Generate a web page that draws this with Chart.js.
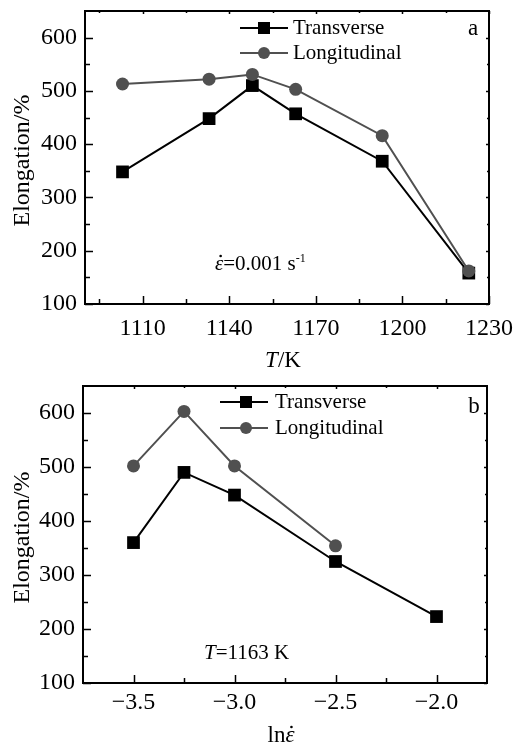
<!DOCTYPE html>
<html>
<head>
<meta charset="utf-8">
<script src="https://cdn.jsdelivr.net/npm/chart.js@4"></script>
<style>
  body { margin: 0; background: #fff; }
  .wrap { position: absolute; left: 0; width: 518px; }
  canvas { display: block; }
</style>
</head>
<body>
<div class="wrap" style="top:0"><canvas id="chartA" width="518" height="370"></canvas></div>
<div class="wrap" style="top:370px"><canvas id="chartB" width="518" height="379"></canvas></div>
<script>
// (a) elongation vs temperature, strain rate 0.001 s-1
const tempA = [1103, 1133, 1148, 1163, 1193, 1223];
const transA = [348, 448, 510, 457, 368, 158];
const longA = [513, 522, 531, 503, 416, 162];
const xTicksA = [1110, 1140, 1170, 1200, 1230];
const xMinorA = [1095, 1125, 1155, 1185, 1215];

// (b) elongation vs ln(strain rate), T = 1163 K
const rateB = [-3.5, -3.25, -3.0, -2.5, -2.0];
const transB = [360, 490, 448, 325, 223];
const rateLongB = [-3.5, -3.25, -3.0, -2.5];
const longB = [502, 603, 502, 354];
const xTicksB = [-3.5, -3.0, -2.5, -2.0];
const xMinorB = [-3.25, -2.75, -2.25];

const yTicks = [100, 200, 300, 400, 500, 600];
const yMinor = [150, 250, 350, 450, 550];

const FONT = "'Liberation Serif', 'DejaVu Serif', serif";
const BLACK = '#000000';
const GREY = '#505050';

// frame, inward ticks, legend, titles and annotation
const framePlugin = {
    id: 'frame',
    afterDraw(chart, args, o) {
        const ctx = chart.ctx;
        const a = chart.chartArea;
        const xs = chart.scales.x, ys = chart.scales.y;
        ctx.save();
        ctx.strokeStyle = BLACK;
        ctx.lineWidth = 2;
        ctx.strokeRect(a.left, a.top, a.right - a.left, a.bottom - a.top);

        ctx.lineWidth = 1.5;
        ctx.beginPath();
        const tick = (x0, y0, x1, y1) => { ctx.moveTo(x0, y0); ctx.lineTo(x1, y1); };
        o.xMajor.forEach(v => {
            const px = Math.round(xs.getPixelForValue(v)) + 0.5;
            tick(px, a.bottom, px, a.bottom - 8);
            tick(px, a.top, px, a.top + 3);
        });
        o.xMinor.forEach(v => {
            const px = Math.round(xs.getPixelForValue(v)) + 0.5;
            tick(px, a.bottom, px, a.bottom - 5);
            tick(px, a.top, px, a.top + 2);
        });
        yTicks.forEach(v => {
            const py = Math.round(ys.getPixelForValue(v)) + 0.5;
            tick(a.left, py, a.left + 8, py);
            tick(a.right, py, a.right - 3, py);
        });
        yMinor.forEach(v => {
            const py = Math.round(ys.getPixelForValue(v)) + 0.5;
            tick(a.left, py, a.left + 5, py);
            tick(a.right, py, a.right - 2, py);
        });
        ctx.stroke();

        // legend
        const entries = [
            { label: 'Transverse', color: BLACK, style: 'rect' },
            { label: 'Longitudinal', color: GREY, style: 'circle' }
        ];
        entries.forEach((e, i) => {
            const ly = o.legend.y + i * o.legend.gap;
            ctx.strokeStyle = e.color;
            ctx.lineWidth = 2;
            ctx.beginPath();
            ctx.moveTo(o.legend.x0, ly);
            ctx.lineTo(o.legend.x1, ly);
            ctx.stroke();
            ctx.fillStyle = e.color;
            ctx.beginPath();
            if (e.style === 'rect') ctx.rect(o.legend.mx - 6, ly - 6, 12, 12);
            else ctx.arc(o.legend.mx, ly, 6, 0, Math.PI * 2);
            ctx.fill();
            ctx.fillStyle = BLACK;
            ctx.font = '21px ' + FONT;
            ctx.textAlign = 'left';
            ctx.textBaseline = 'middle';
            ctx.fillText(e.label, o.legend.tx, ly);
        });

        // panel letter
        ctx.font = '23px ' + FONT;
        ctx.textAlign = 'center';
        ctx.textBaseline = 'middle';
        ctx.fillText(o.panel.text, o.panel.x, o.panel.y);

        // y title
        ctx.save();
        ctx.translate(23, (a.top + a.bottom) / 2 + 3);
        ctx.rotate(-Math.PI / 2);
        ctx.font = '24px ' + FONT;
        ctx.textAlign = 'center';
        ctx.textBaseline = 'middle';
        ctx.fillText('Elongation/%', 0, 0);
        ctx.restore();

        // mixed-style texts (x title and note); dotted epsilon gets its dot drawn
        const runs = (parts, x, y, align) => {
            ctx.textBaseline = 'alphabetic';
            ctx.textAlign = 'left';
            let w = 0;
            parts.forEach(p => { ctx.font = p.f; w += ctx.measureText(p.t).width; });
            let cx = align === 'center' ? x - w / 2 : x;
            parts.forEach(p => {
                ctx.font = p.f;
                const pw = ctx.measureText(p.t).width;
                ctx.fillText(p.t, cx, y + (p.dy || 0));
                if (p.dot) {
                    ctx.beginPath();
                    ctx.arc(cx + pw / 2 + 1.5, y - p.dot, 1.3, 0, Math.PI * 2);
                    ctx.fill();
                }
                cx += pw;
            });
        };
        runs(o.xTitle, o.xTitlePos.x, o.xTitlePos.y, 'center');
        runs(o.note, o.notePos.x, o.notePos.y, 'left');
        ctx.restore();
    }
};

function makeChart(id, datasets, xMin, xMax, xTicks, xFmt, area, extra) {
    const canvas = document.getElementById(id);
    const noPad = s => { s.paddingTop = 0; s.paddingBottom = 0; s.paddingLeft = 0; s.paddingRight = 0; };
    return new Chart(canvas.getContext('2d'), {
        type: 'line',
        data: { datasets: datasets },
        options: {
            responsive: false,
            animation: false,
            devicePixelRatio: 1,
            layout: { padding: { left: 0, right: 518 - area.right, top: area.top, bottom: 0 } },
            plugins: {
                legend: { display: false },
                tooltip: { enabled: false },
                frame: extra
            },
            scales: {
                x: {
                    type: 'linear',
                    min: xMin,
                    max: xMax,
                    afterBuildTicks: s => { s.ticks = xTicks.map(v => ({ value: v })); },
                    afterFit: s => { s.height = canvas.height - area.bottom; noPad(s); },
                    grid: { display: false, drawTicks: false },
                    border: { display: false },
                    ticks: {
                        color: BLACK,
                        padding: area.labelPad,
                        maxRotation: 0,
                        font: { family: FONT, size: 24 },
                        callback: xFmt
                    }
                },
                y: {
                    min: 100,
                    max: 650,
                    afterBuildTicks: s => { s.ticks = yTicks.map(v => ({ value: v })); },
                    afterFit: s => { s.width = area.left; noPad(s); },
                    grid: { display: false, drawTicks: false },
                    border: { display: false },
                    ticks: {
                        color: BLACK,
                        padding: 8,
                        font: { family: FONT, size: 24 }
                    }
                }
            }
        },
        plugins: [framePlugin]
    });
}

const series = (xs, ys) => xs.map((x, i) => ({ x: x, y: ys[i] }));

makeChart('chartA', [
    { label: 'Transverse', data: series(tempA, transA), borderColor: BLACK, backgroundColor: BLACK,
      borderWidth: 2, pointStyle: 'rect', pointRadius: 9, pointBorderWidth: 0, order: 2 },
    { label: 'Longitudinal', data: series(tempA, longA), borderColor: GREY, backgroundColor: GREY,
      borderWidth: 2, pointStyle: 'circle', pointRadius: 6.5, pointBorderWidth: 0, order: 1 }
], 1090, 1230, xTicksA, v => String(v),
{ left: 85, right: 489, top: 11, bottom: 304, labelPad: 10 },
{
    xMajor: xTicksA, xMinor: xMinorA,
    legend: { y: 28, gap: 25, x0: 240, x1: 288, mx: 264, tx: 293 },
    panel: { text: 'a', x: 473, y: 29 },
    xTitle: [{ t: 'T', f: 'italic 23px ' + FONT }, { t: '/K', f: '23px ' + FONT }],
    xTitlePos: { x: 283, y: 367 },
    note: [{ t: 'ε', f: 'italic 21px ' + FONT, dot: 14 }, { t: '=0.001 s', f: '21px ' + FONT },
           { t: '-1', f: '12px ' + FONT, dy: -8 }],
    notePos: { x: 215, y: 270 }
});

makeChart('chartB', [
    { label: 'Transverse', data: series(rateB, transB), borderColor: BLACK, backgroundColor: BLACK,
      borderWidth: 2, pointStyle: 'rect', pointRadius: 9, pointBorderWidth: 0, order: 2 },
    { label: 'Longitudinal', data: series(rateLongB, longB), borderColor: GREY, backgroundColor: GREY,
      borderWidth: 2, pointStyle: 'circle', pointRadius: 6.5, pointBorderWidth: 0, order: 1 }
], -3.75, -1.75, xTicksB, v => v.toFixed(1).replace('-', '\u2212'),
{ left: 83, right: 487, top: 16, bottom: 313, labelPad: 5 },
{
    xMajor: xTicksB, xMinor: xMinorB,
    legend: { y: 32, gap: 26, x0: 220, x1: 268, mx: 246, tx: 275 },
    panel: { text: 'b', x: 474, y: 37 },
    xTitle: [{ t: 'ln', f: '23px ' + FONT }, { t: 'ε', f: 'italic 23px ' + FONT, dot: 15 }],
    xTitlePos: { x: 281, y: 372 },
    note: [{ t: 'T', f: 'italic 21px ' + FONT }, { t: '=1163 K', f: '21px ' + FONT }],
    notePos: { x: 204, y: 289 }
});
</script>
</body>
</html>
